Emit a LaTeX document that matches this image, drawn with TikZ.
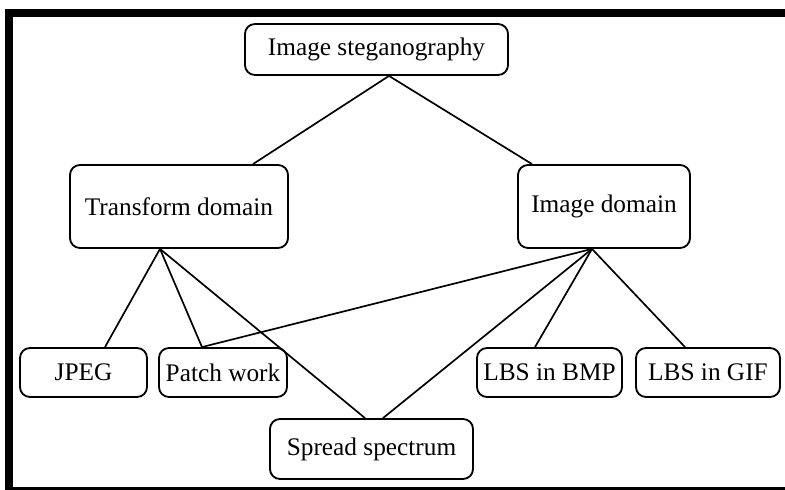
\documentclass[tikz,border=0pt]{standalone}
\usepackage{fontspec}
\setmainfont{Liberation Serif}
\usepackage{xcolor}

\tikzset{
  catbox/.style={draw, rounded corners=0.25cm, line width=1.3pt, inner sep=0pt,
                 font=\fontsize{18}{22}\selectfont},
  link/.style={line width=1.2pt}
}

\begin{document}
\begin{tikzpicture}[line width=1.2pt, x=0.025cm, y=-0.025cm]
    \useasboundingbox (0,0) rectangle (785,490);
    % frame
    \draw[line width=0.2cm, line join=miter] (785,13.5) -- (9,13.5) -- (9,491) -- (785,491);
    % root
    \node[catbox, minimum width=6.575cm, minimum height=1.275cm] (steg) at (376.5,49.5) {Image steganography};
    % domains
    \node[catbox, minimum width=5.45cm, minimum height=2.075cm] (trans) at (179,206.5) {Transform domain};
    \node[catbox, minimum width=4.3cm, minimum height=2.075cm] (imgdom) at (604,206.5) {Image domain};
    % methods
    \node[catbox, minimum width=3.175cm, minimum height=1.225cm] (jpeg) at (83.5,372.5) {JPEG};
    \node[catbox, minimum width=3.2cm, minimum height=1.225cm] (patch) at (223,372.5) {Patch work};
    \node[catbox, minimum width=5.075cm, minimum height=1.5cm] (spread) at (371.5,449) {Spread spectrum};
    \node[catbox, minimum width=3.625cm, minimum height=1.225cm] (bmp) at (549.5,372.5) {LBS in BMP};
    \node[catbox, minimum width=3.6cm, minimum height=1.225cm] (gif) at (708,372.5) {LBS in GIF};
    % root to domains
    \draw[link] ([xshift=0.3125cm]steg.south) -- ([xshift=1.85cm]trans.north);
    \draw[link] ([xshift=0.3125cm]steg.south) -- ([xshift=-1.8cm]imgdom.north);
    % transform domain
    \draw[link] ([xshift=-0.475cm]trans.south) -- ([xshift=0.5375cm]jpeg.north);
    \draw[link] ([xshift=-0.475cm]trans.south) -- ([xshift=-0.525cm]patch.north);
    \draw[link] ([xshift=-0.475cm]trans.south) -- ([xshift=-0.1625cm]spread.north);
    % image domain
    \draw[link] ([xshift=-0.3cm]imgdom.south) -- ([xshift=-0.525cm]patch.north);
    \draw[link] ([xshift=-0.3cm]imgdom.south) -- ([xshift=0.2875cm]spread.north);
    \draw[link] ([xshift=-0.3cm]imgdom.south) -- ([xshift=-0.3625cm]bmp.north);
    \draw[link] ([xshift=-0.3cm]imgdom.south) -- ([xshift=-0.575cm]gif.north);
\end{tikzpicture}
\end{document}
